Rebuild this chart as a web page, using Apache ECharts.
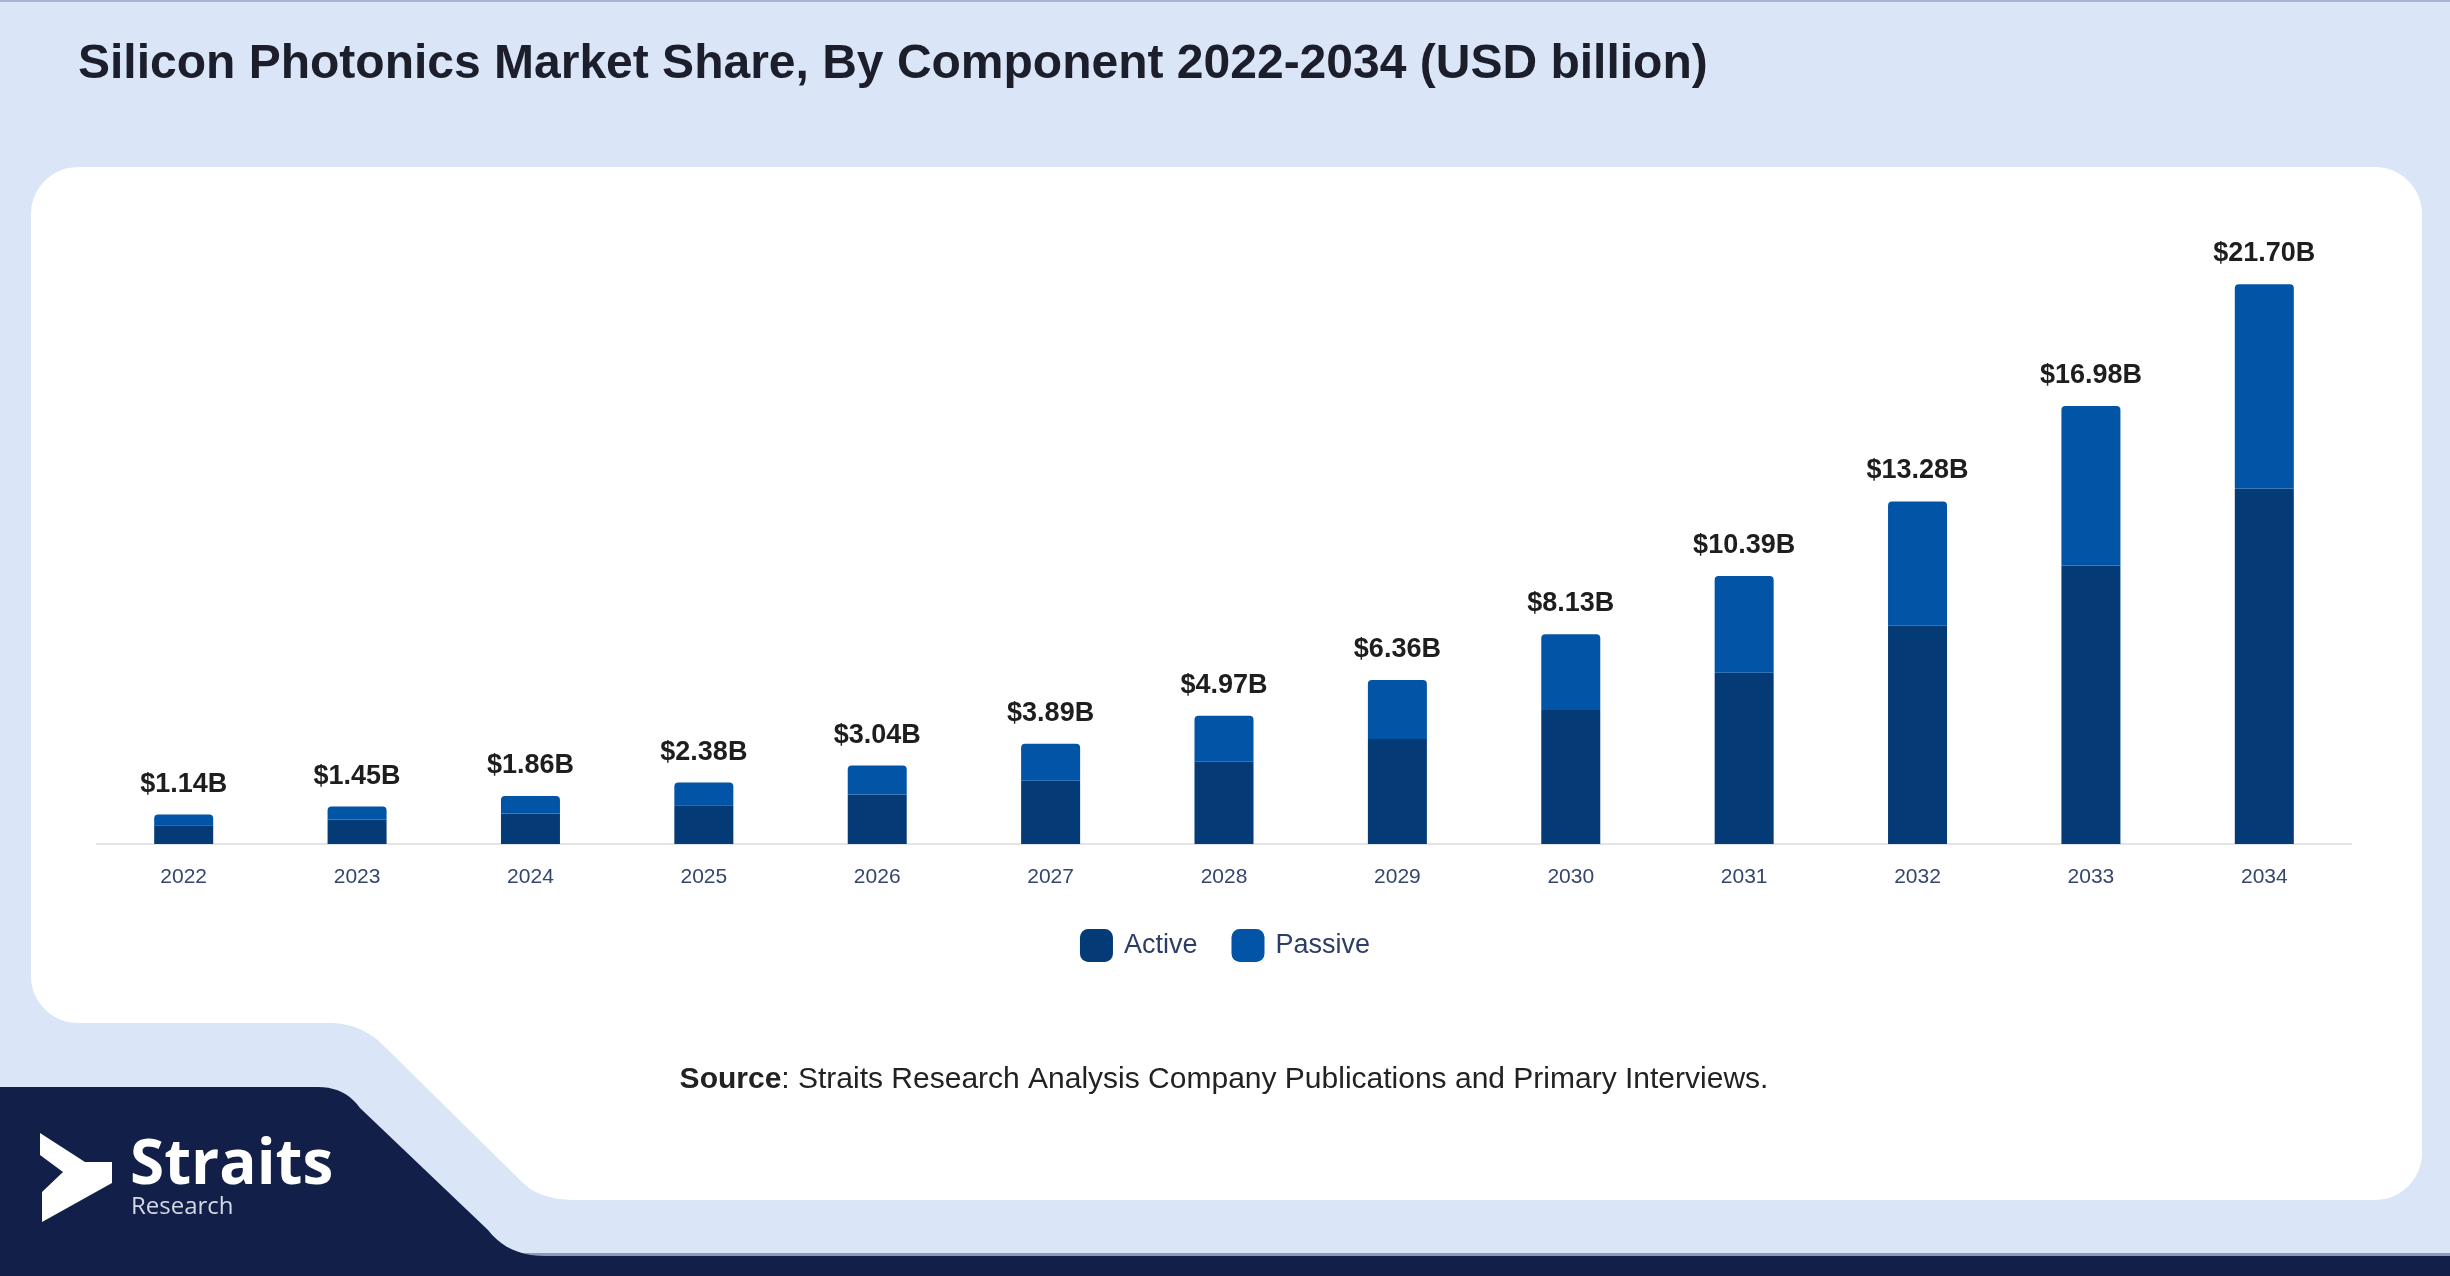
<!DOCTYPE html>
<html>
<head>
<meta charset="utf-8">
<script src="https://cdn.jsdelivr.net/npm/echarts@6/dist/echarts.min.js"></script>
<style>
html,body{margin:0;padding:0;background:#dae6f8;}
#chart{width:2450px;height:1276px;}
</style>
</head>
<body>
<div id="chart"></div>
<script>
const years = ['2022','2023','2024','2025','2026','2027','2028','2029','2030','2031','2032','2033','2034'];
const totals = [1.14,1.45,1.86,2.38,3.04,3.89,4.97,6.36,8.13,10.39,13.28,16.98,21.70];
const active = [0.73,0.95,1.18,1.50,1.92,2.45,3.19,4.07,5.20,6.64,8.46,10.80,13.78];
const passive = [0.41,0.50,0.68,0.88,1.12,1.44,1.78,2.29,2.93,3.75,4.82,6.18,7.92];
const seriesNames = ['Active','Passive'];
const titleText = 'Silicon Photonics Market Share, By Component 2022-2034 (USD billion)';
const sourceText = 'Straits Research Analysis Company Publications and Primary Interviews.';

const FONT = '"Liberation Sans", Arial, sans-serif';

// decorative outline helpers
function arc(cx, cy, r, a0, a1, n) {
  const pts = [];
  n = n || 12;
  for (let i = 0; i <= n; i++) {
    const a = (a0 + (a1 - a0) * i / n) * Math.PI / 180;
    pts.push([cx + r * Math.cos(a), cy + r * Math.sin(a)]);
  }
  return pts;
}
function quad(p0, c, p1, n) {
  const pts = [];
  n = n || 10;
  for (let i = 0; i <= n; i++) {
    const t = i / n, u = 1 - t;
    pts.push([u*u*p0[0] + 2*u*t*c[0] + t*t*p1[0], u*u*p0[1] + 2*u*t*c[1] + t*t*p1[1]]);
  }
  return pts;
}
const cardPts = [].concat(
  arc(78, 214, 47, 180, 270),
  arc(2375, 214, 47, 270, 360),
  arc(2375, 1153, 47, 0, 90),
  quad([575,1200], [540,1200], [522,1182]),
  quad([385,1047], [362,1023], [330,1023]),
  arc(78, 976, 47, 90, 180)
);
const navyPts = [].concat(
  [[0,1087]],
  quad([318,1087], [345,1087], [360,1108]),
  quad([488,1230], [508,1256], [545,1256]),
  [[2450,1256],[2450,1276],[0,1276]]
);

const chart = echarts.init(document.getElementById('chart'), null, {renderer:'canvas'});

const option = {
  backgroundColor: '#dae6f8',
  animation: false,
  graphic: [
    {type:'rect', z:-20, shape:{x:0,y:0,width:2450,height:2}, style:{fill:'#a6b3d1'}},
    {type:'polygon', z:-10, shape:{points:cardPts}, style:{fill:'#ffffff'}},
    {type:'rect', z:-6, shape:{x:0,y:1253,width:2450,height:3}, style:{fill:'#8d9abb'}},
    {type:'polygon', z:-5, shape:{points:navyPts}, style:{fill:'#121f48'}},
    {type:'polygon', z:-4, shape:{points:[[40,1133],[85,1162],[112,1162],[112,1183],[42,1222],[42,1192],[63,1172],[40,1155]]},
      style:{fill:'#ffffff'}},
    {type:'text', z:-4, x:130, y:1166, style:{text:'Straits', fill:'#ffffff', font:'bold 62px "Open Sans", sans-serif', verticalAlign:'middle', align:'left'}},
    {type:'text', z:-4, x:131, y:1207, style:{text:'Research', fill:'#d4d8e4', font:'24px "Open Sans", sans-serif', verticalAlign:'middle', align:'left'}},
    {type:'text', x:78, y:65, style:{text:titleText, fill:'#1c1f2b', font:'bold 48px ' + FONT, verticalAlign:'middle', align:'left'}},
    {type:'text', x:1224, y:1080, style:{
      text:'{b|Source}: ' + sourceText, fill:'#222222', font:'30px ' + FONT,
      verticalAlign:'middle', align:'center',
      rich:{b:{fontWeight:'bold', fontSize:30, fontFamily:FONT, fill:'#222222'}}}}
  ],
  grid: {left:97, right:99, top:225, bottom:432},
  legend: {
    data: seriesNames,
    left: 'center', top: 924,
    icon: 'roundRect', itemWidth: 33, itemHeight: 33, itemGap: 34,
    textStyle: {fontSize:27, color:'#2c3d66', fontFamily:FONT, padding:[0,0,0,6]}
  },
  xAxis: {
    type:'category', data: years,
    axisLine:{lineStyle:{color:'#e2e4e8', width:2}},
    axisTick:{show:false},
    axisLabel:{color:'#34466e', fontSize:21, fontFamily:FONT, margin:23}
  },
  yAxis: {type:'value', min:0, max:24, show:false, splitLine:{show:false}},
  series: [
    {name:seriesNames[0], type:'bar', stack:'t', data:active, barWidth:59,
     itemStyle:{color:'#043b77'}},
    {name:seriesNames[1], type:'bar', stack:'t', data:passive, barWidth:59,
     itemStyle:{color:'#0254a6', borderRadius:[4,4,0,0]},
     label:{show:true, position:'top', distance:17,
       formatter: p => '$' + totals[p.dataIndex].toFixed(2) + 'B',
       fontSize:27, fontWeight:'bold', color:'#1e1e1e', fontFamily:FONT}}
  ]
};
chart.setOption(option);
</script>
</body>
</html>
